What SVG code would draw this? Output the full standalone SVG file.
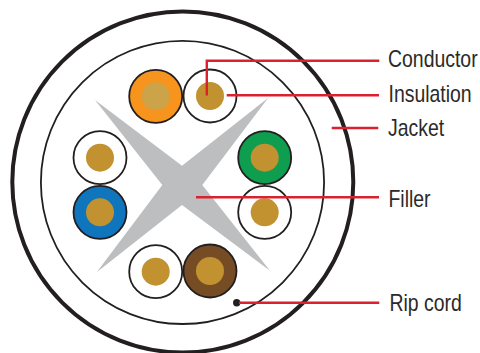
<svg xmlns="http://www.w3.org/2000/svg" width="480" height="353" viewBox="0 0 480 353">
<style>
.ring{stroke:#231f20;stroke-width:1.8}
.core{fill:#c1922f}
.lead{fill:none;stroke:#d8232f;stroke-width:2.4}
text{font-family:"Liberation Sans",Arial,sans-serif;font-size:23px;fill:#2b2a2a}
</style>
<rect width="480" height="353" fill="#fff"/>
<g id="jacket"><circle cx="182.8" cy="182" r="170.5" fill="#fff" stroke="#231f20" stroke-width="4"/></g>
<g id="inner-sheath"><circle cx="182.5" cy="182.4" r="141.6" fill="#fff" stroke="#231f20" stroke-width="1.8"/></g>
<g id="filler"><polygon fill="#bcbec0" points="95,100 182,165.7 268.3,97.7 202.3,185 270,270.7 182,205 96.7,272.3 162.3,185"/></g>
<g id="pair-orange"><circle class="ring" cx="155.7" cy="96.3" r="26.5" fill="#f7941d"/><circle cx="155.7" cy="96.3" r="14" fill="#cda349"/></g>
<g id="pair-orange-white"><circle class="ring" cx="210" cy="96" r="26.5" fill="#fff"/><circle class="core" cx="210" cy="96" r="14"/></g>
<g id="pair-blue-white"><circle class="ring" cx="100" cy="157.7" r="26.5" fill="#fff"/><circle class="core" cx="100" cy="157.7" r="14"/></g>
<g id="pair-blue"><circle class="ring" cx="100" cy="212.3" r="26.5" fill="#0f75bc"/><circle class="core" cx="100" cy="212.3" r="14"/></g>
<g id="pair-green"><circle class="ring" cx="264.7" cy="157.7" r="26.5" fill="#0f9d4f"/><circle class="core" cx="264.7" cy="157.7" r="14"/></g>
<g id="pair-green-white"><circle class="ring" cx="264.7" cy="212.3" r="26.5" fill="#fff"/><circle class="core" cx="264.7" cy="212.3" r="14"/></g>
<g id="pair-brown-white"><circle class="ring" cx="155.7" cy="271.7" r="26.5" fill="#fff"/><circle class="core" cx="155.7" cy="271.7" r="14"/></g>
<g id="pair-brown"><circle class="ring" cx="210" cy="271" r="26.5" fill="#754c24"/><circle class="core" cx="210" cy="271" r="14"/></g>
<g id="rip-cord"><circle cx="236.7" cy="302.7" r="3.7" fill="#231f20"/></g>
<g id="connectors">
<path class="lead" d="M206.8 95.5V60.8H379.3"/>
<path class="lead" d="M226.7 95.3H379"/>
<path class="lead" d="M331.7 128H378.3"/>
<path class="lead" d="M196 197.3H379"/>
<path class="lead" d="M239 302.7H379.3"/>
</g>
<g id="labels">
<text transform="translate(388 66.5) scale(.845 1)">Conductor</text>
<text transform="translate(388.5 102) scale(.845 1)">Insulation</text>
<text transform="translate(388 136.3) scale(.845 1)">Jacket</text>
<text transform="translate(388.5 206.7) scale(.845 1)">Filler</text>
<text transform="translate(389.5 310.7) scale(.845 1)">Rip cord</text>
</g>
</svg>
